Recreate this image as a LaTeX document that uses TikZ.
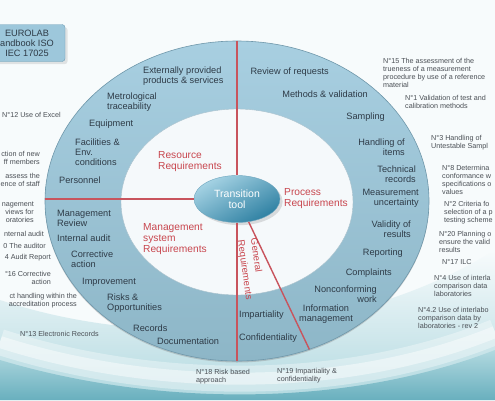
\documentclass[tikz,border=0pt]{standalone}
\usepackage{fontspec}
\setmainfont{Liberation Sans}
\usetikzlibrary{shapes.geometric,backgrounds,shadows}
\definecolor{ringtop}{HTML}{A8CFE1}
\definecolor{ringbot}{HTML}{8DB6C7}
\definecolor{ringedge}{HTML}{6F97AA}
\definecolor{hubfill}{HTML}{F5F9FB}
\definecolor{divred}{HTML}{C8545D}
\definecolor{reqred}{HTML}{C8464E}
\definecolor{lbltext}{HTML}{2E3B47}
\definecolor{notetext}{HTML}{4A4F55}
\definecolor{tooltop}{HTML}{A6D3E4}
\definecolor{toolbot}{HTML}{2E80A2}
\definecolor{bgtop}{HTML}{F7FBFC}
\definecolor{bgmid}{HTML}{B2D9E0}
\definecolor{bgbot}{HTML}{5AA7B7}
\definecolor{boxfill}{HTML}{9DC7DB}
\definecolor{boxedge}{HTML}{6E9DB5}
\tikzset{
  ring/.style={ellipse, minimum width=384pt, minimum height=320pt, inner sep=0pt, top color=ringtop, bottom color=ringbot, draw=ringedge, line width=0.6pt, drop shadow={shadow xshift=0pt, shadow yshift=-1.5pt, opacity=0.35}},
  hub/.style={ellipse, minimum width=232pt, minimum height=186pt, inner sep=0pt, fill=hubfill, draw=ringedge!60, line width=0.4pt},
  tool/.style={ellipse, minimum width=86pt, minimum height=47pt, inner sep=0pt, top color=tooltop, bottom color=toolbot, shading angle=30, draw=toolbot!70, text=white, align=center, font=\fontsize{10.5}{11}\selectfont, drop shadow={opacity=0.25}},
  eurobox/.style={rectangle, rounded corners=3pt, minimum width=76pt, minimum height=37pt, fill=boxfill, draw=boxedge, text=lbltext, align=center, font=\fontsize{9.2}{10}\selectfont, drop shadow={opacity=0.2}},
  ringlbl/.style={text=lbltext, font=\fontsize{9.2}{10}\selectfont, inner sep=0pt, align=left, anchor=west},
  ringlblr/.style={ringlbl, align=right, anchor=east},
  reqlbl/.style={text=reqred, font=\fontsize{10.2}{11}\selectfont, inner sep=0pt, align=left, anchor=west},
  note/.style={text=notetext, font=\fontsize{7.2}{8}\selectfont, inner sep=0pt, align=left, anchor=west},
  noter/.style={note, align=right, anchor=east},
  divider/.style={draw=divred, line width=1.4pt}
}
\begin{document}
\begin{tikzpicture}[x=1pt, y=-1pt]
\useasboundingbox (0,0) rectangle (495,400);
\clip (0,0) rectangle (495,400);

\node[eurobox] (eurolab) at (27,43) {EUROLAB\\andbook ISO\\IEC 17025};

% wheel
\node[ring] (ring) at (237,201) {};
\node[hub] (hub) at (237,202) {};
\node[tool] (tool) at (237,199) {Transition\\tool};

\draw[divider] (ring.north) -- (tool.north);
\draw[divider] (ring.west |- tool.west) -- (tool.west);
\draw[divider] (tool.south) -- (ring.south);
\draw[divider] (tool.-63) -- (ring.-64);

% resource requirements
\node[ringlbl] (extprod) at (143,76) {Externally provided\\products \& services};
\node[ringlbl] (metro) at (107,102) {Metrological\\traceability};
\node[ringlbl] (equip) at (89,124) {Equipment};
\node[ringlbl] (facil) at (75,152) {Facilities \&\\Env.\\conditions};
\node[ringlbl] (personnel) at (59,180) {Personnel};

% process requirements
\node[ringlblr] (review) at (329,72) {Review of requests};
\node[ringlblr] (methods) at (368,94) {Methods \& validation};
\node[ringlblr] (sampling) at (385,117) {Sampling};
\node[ringlblr] (handling) at (405,147) {Handling of\\items};
\node[ringlblr] (techrec) at (416,174) {Technical\\records};
\node[ringlblr] (measunc) at (419,198) {Measurement\\uncertainty};
\node[ringlblr] (validity) at (411,229) {Validity of\\results};
\node[ringlblr] (reporting) at (403,253) {Reporting};
\node[ringlblr] (complaints) at (392,273) {Complaints};
\node[ringlblr] (noncon) at (377,294) {Nonconforming\\work};
\node[ringlbl, align=center, anchor=center] (infomgmt) at (326,314) {Information\\management};

% management system requirements
\node[ringlbl] (mgmtrev) at (57,218) {Management\\Review};
\node[ringlbl] (intaudit) at (57,238) {Internal audit};
\node[ringlbl] (corract) at (71,259) {Corrective\\action};
\node[ringlbl] (improve) at (82,282) {Improvement};
\node[ringlbl] (risks) at (107,303) {Risks \&\\Opportunities};
\node[ringlbl] (records) at (133,328) {Records};
\node[ringlbl] (docs) at (157,341) {Documentation};

% general requirements
\node[ringlbl] (impart) at (239,315) {Impartiality};
\node[ringlbl] (confid) at (239,338) {Confidentiality};

\node[reqlbl] (resreq) at (158,162) {Resource\\Requirements};
\node[reqlbl] (procreq) at (284,199) {Process\\Requirements};
\node[reqlbl] (mgmtreq) at (143,239) {Management\\system\\Requirements};
\node[reqlbl, anchor=center, rotate=-82, font=\fontsize{9.6}{13}\selectfont] (genreq) at (251,269) {General\\Requirements};

% notes left
\node[note] (n12) at (2,115) {N°12 Use of Excel};
\node[noter] (nstaff) at (40,158) {ction of new\\ff members};
\node[noter] (ncomp) at (40,180) {assess the\\ence of staff};
\node[noter] (nmgmt) at (34,212) {nagement\\views for\\oratories};
\node[noter] (naudit) at (44,234) {nternal audit};
\node[noter] (nauditor) at (46,246) {0 The auditor};
\node[noter] (nreport) at (51,258) {4 Audit Report};
\node[noter] (n16) at (51,278) {°16 Corrective\\action};
\node[noter] (ncompl) at (77,301) {ct handling within the\\accreditation process};
\node[note] (n13) at (20,334) {N°13 Electronic Records};

% notes bottom
\node[note] (n18) at (196,377) {N°18 Risk based\\approach};
\node[note] (n19) at (277,376) {N°19 Impartiality \&\\confidentiality};

% notes right
\node[note] (n15) at (383,73) {N°15 The assessment of the\\trueness of a measurement\\procedure by use of a reference\\material};
\node[note] (n1) at (405,102) {N°1 Validation of test and\\calibration methods};
\node[note] (n3) at (431,143) {N°3 Handling of\\Untestable Sampl};
\node[note] (n8) at (442,180) {N°8 Determina\\conformance w\\specifications o\\values};
\node[note] (n2) at (444,213) {N°2 Criteria fo\\selection of a p\\testing scheme};
\node[note] (n20) at (439,242) {N°20 Planning o\\ensure the valid\\results};
\node[note] (n17) at (442,262) {N°17 ILC};
\node[note] (n4) at (434,286) {N°4 Use of interla\\comparison data\\laboratories};
\node[note] (n42) at (418,318) {N°4.2 Use of interlabo\\comparison data by\\laboratories - rev 2};

\begin{scope}[on background layer]
\fill[bgtop] (0,0) rectangle (495,400);
\shade[top color=bgtop, bottom color=bgmid] (0,300) .. controls (150,350) and (350,340) .. (495,250) -- (495,400) -- (0,400) -- cycle;
\shade[top color=bgmid, bottom color=bgbot] (0,360) .. controls (150,405) and (340,410) .. (495,350) -- (495,400) -- (0,400) -- cycle;
\draw[white, opacity=0.35, line width=26pt] (0,342) .. controls (150,390) and (340,395) .. (495,332);
\draw[white, opacity=0.45, line width=12pt] (0,342) .. controls (150,390) and (340,395) .. (495,332);
\end{scope}
\end{tikzpicture}
\end{document}
